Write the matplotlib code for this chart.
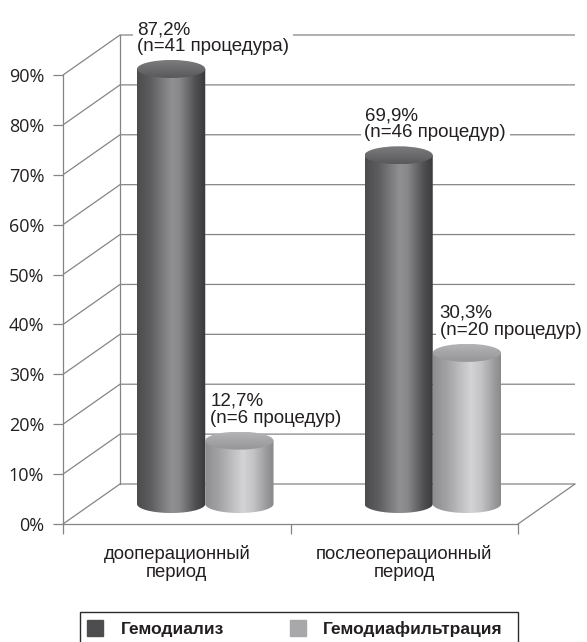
import numpy as np
import matplotlib
matplotlib.use("Agg")
import matplotlib.pyplot as plt
from matplotlib.patches import Ellipse, PathPatch, Rectangle
from matplotlib.path import Path
from matplotlib.colors import LinearSegmentedColormap
from matplotlib.lines import Line2D

plt.rcParams['font.family'] = ['Liberation Sans', 'DejaVu Sans']

# ---------------- data ----------------
categories = ['дооперационный\nпериод', 'послеоперационный\nпериод']
series_names = ['Гемодиализ', 'Гемодиафильтрация']
hemodialysis = [87.2, 69.9]
hemodiafiltration = [12.7, 30.3]
labels_hd = ['87,2%\n(n=41 процедура)', '69,9%\n(n=46 процедур)']
labels_hdf = ['12,7%\n(n=6 процедур)', '30,3%\n(n=20 процедур)']
yticks = [0, 10, 20, 30, 40, 50, 60, 70, 80, 90]
ytick_labels = ['0%', '10%', '20%', '30%', '40%', '50%', '60%', '70%', '80%', '90%']

# ---------------- layout ----------------
W, H, DPI = 587, 642, 100
fig = plt.figure(figsize=(W / DPI, H / DPI), dpi=DPI)
ax_l, ax_b, ax_w, ax_h = 63, 642 - 524, 455, 449
ax = fig.add_axes([ax_l / W, ax_b / H, ax_w / W, ax_h / H])
ax.set_xlim(-0.5, 1.5)
ax.set_ylim(0, 90)

px_x = 2.0 / ax_w
px_y = 90.0 / ax_h
dx = 57 * px_x
dy = 40 * px_y
ey = 9 * px_y          # ellipse semi-height (data units)
bar_w = 0.30

grid_c = '#858585'
text_c = '#231f20'
lw = 0.9

for s in ['top', 'right']:
    ax.spines[s].set_visible(False)
for s in ['left', 'bottom']:
    ax.spines[s].set_color(grid_c)
    ax.spines[s].set_linewidth(lw)

# y ticks
ax.set_yticks(yticks)
ax.set_yticklabels(ytick_labels, fontsize=13, color=text_c, family=['Open Sans', 'DejaVu Sans'])
ax.tick_params(axis='y', length=7.2, width=lw, color=grid_c, pad=6.3)

# x ticks
ax.set_xticks([0, 1])
ax.set_xticklabels(categories, fontsize=13.3, color=text_c, linespacing=1.12)
ax.set_xticks([-0.5, 0.5, 1.5], minor=True)
ax.tick_params(axis='x', which='major', length=0, pad=15)
ax.tick_params(axis='x', which='minor', length=7.5, width=lw, color=grid_c)

# perspective grid
for t in yticks:
    ax.plot([-0.5, -0.5 + dx, 1.5 + dx], [t, t + dy, t + dy], color=grid_c, lw=lw,
            clip_on=False, zorder=1, solid_capstyle='butt')
ax.plot([1.5, 1.5 + dx], [0, dy], color=grid_c, lw=lw, clip_on=False, zorder=1)
ax.plot([-0.5 + dx, -0.5 + dx], [dy, yticks[-1] + dy], color=grid_c, lw=lw,
        clip_on=False, zorder=1)

dark_cmap = LinearSegmentedColormap.from_list('d', [
    (0.0, '#4c4c4e'), (0.2, '#5e5e60'), (0.5, '#909092'), (0.62, '#88888a'),
    (0.85, '#505052'), (1.0, '#38383a')])
light_cmap = LinearSegmentedColormap.from_list('l', [
    (0.0, '#8e8e90'), (0.2, '#a2a2a4'), (0.55, '#d4d4d6'), (0.7, '#c4c4c6'),
    (0.9, '#99999b'), (1.0, '#88888a')])
dark_top = LinearSegmentedColormap.from_list('dt', ['#59595b', '#6a6a6c', '#7c7c7e'])
light_top = LinearSegmentedColormap.from_list('lt', ['#969698', '#a4a4a6', '#b4b4b6'])

grad = np.linspace(0, 1, 256).reshape(1, -1)
vgrad = np.linspace(0, 1, 64).reshape(-1, 1)


def cylinder(xc, value, cmap, tcmap):
    yb = dy / 2
    yt = value + dy / 2
    hw = bar_w / 2
    a = np.linspace(np.pi, 2 * np.pi, 60)
    verts = [(xc - hw, yt), (xc - hw, yb)]
    verts += list(zip(xc + hw * np.cos(a), yb + ey * np.sin(a)))
    verts += [(xc + hw, yt), (xc - hw, yt)]
    codes = [Path.MOVETO] + [Path.LINETO] * (len(verts) - 2) + [Path.CLOSEPOLY]
    body = PathPatch(Path(verts, codes), facecolor='none', edgecolor='none',
                     clip_on=False)
    ax.add_patch(body)
    im = ax.imshow(grad, cmap=cmap, extent=(xc - hw, xc + hw, yb - ey, yt),
                   aspect='auto', zorder=3, interpolation='bilinear')
    im.set_clip_path(body)
    im.set_clip_box(fig.bbox)
    top = Ellipse((xc, yt), 2 * hw, 2 * ey, facecolor='none', edgecolor='none',
                  clip_on=False)
    ax.add_patch(top)
    im2 = ax.imshow(vgrad, cmap=tcmap, extent=(xc - hw, xc + hw, yt - ey, yt + ey),
                    origin='lower', aspect='auto', zorder=4, interpolation='bilinear')
    im2.set_clip_path(top)
    im2.set_clip_box(fig.bbox)
    return yt + ey


label_dx_px = [[0, 5], [0, 7]]
for i in range(len(categories)):
    gc = i + dx / 2
    xs = [gc - bar_w / 2, gc + bar_w / 2]
    for j, (vals, labs, cm, tcm) in enumerate([
            (hemodialysis, labels_hd, dark_cmap, dark_top),
            (hemodiafiltration, labels_hdf, light_cmap, light_top)]):
        ytop = cylinder(xs[j], vals[i], cm, tcm)
        ax.annotate(labs[i], xy=(xs[j] - bar_w / 2, ytop),
                    xytext=(label_dx_px[i][j] * 0.72, 3.5), textcoords='offset points',
                    ha='left', va='bottom', fontsize=13.5, color=text_c, linespacing=1.0,
                    annotation_clip=False, zorder=2,
                    bbox=dict(facecolor='white', edgecolor='none', pad=2.5))

ax.set_xlim(-0.5, 1.5)
ax.set_ylim(0, 90)

# legend
handles = [Line2D([], [], marker='s', ls='', markersize=12.2, color='#4d4d4f'),
           Line2D([], [], marker='s', ls='', markersize=12.2, color='#a8a8aa')]
leg = fig.legend(handles, series_names, ncol=2, loc='upper left', frameon=False,
                 bbox_to_anchor=(78 / W, (642 - 612) / H), bbox_transform=fig.transFigure,
                 prop={'weight': 'bold', 'size': 12.5}, handlelength=1.0,
                 handletextpad=0.95, columnspacing=3.75, borderaxespad=0, borderpad=0.5)
for t in leg.get_texts():
    t.set_color(text_c)
fig.patches.append(Rectangle((80 / W, -0.05), (518 - 80) / W, (642 - 612) / H + 0.05,
                             transform=fig.transFigure, facecolor='none',
                             edgecolor='#2a2a2a', lw=1.0, figure=fig))

fig.savefig('out.png', dpi=DPI)
